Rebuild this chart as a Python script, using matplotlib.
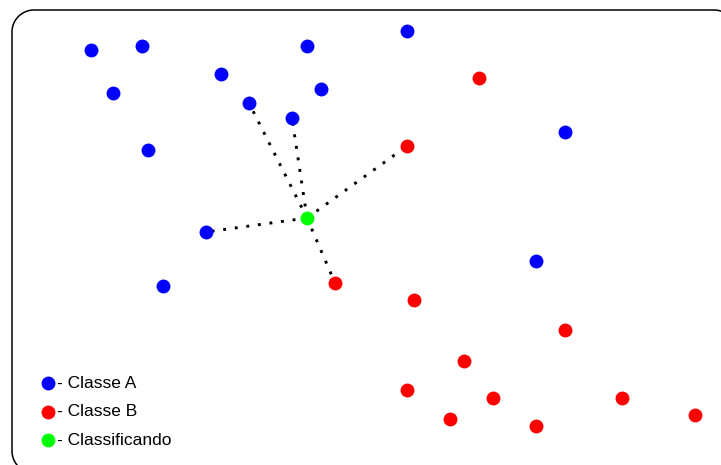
import matplotlib
matplotlib.use('Agg')
import matplotlib.pyplot as plt
import numpy as np
from matplotlib.patches import Polygon

plt.rcParams['font.family'] = ['Liberation Sans', 'DejaVu Sans']

# point positions (pixel-like units, y grows downward)
classe_a_x = [91, 142, 307, 407, 113, 221, 321, 249, 292, 148, 565, 206, 536, 163]
classe_a_y = [50, 46, 46, 31, 93, 74, 89, 103, 118, 150, 132, 232, 261, 286]
classe_b_x = [479, 407, 335, 414, 565, 464, 407, 493, 622, 450, 536, 695]
classe_b_y = [78, 146, 283, 300, 330, 361, 390, 398, 398, 419, 426, 415]
novo_x, novo_y = 307, 218
# the 5 nearest neighbours joined by dotted lines
viz_x = [249, 292, 407, 206, 335]
viz_y = [103, 118, 146, 232, 283]

legenda = ["- Classe A", "- Classe B", "- Classificando"]
cores = ["#0000ff", "#ff0000", "#00ff00"]

fig = plt.figure(figsize=(7.21, 4.65), dpi=100, facecolor="white")
ax = fig.add_axes([0, 0, 1, 1])
ax.set_xlim(0, 721); ax.set_ylim(465, 0)
ax.axis("off")


def rounded_rect(x0, y0, x1, y1, r, n=20):
    pts = []
    for cx, cy, a0 in [(x0 + r, y0 + r, np.pi), (x1 - r, y0 + r, 1.5 * np.pi),
                       (x1 - r, y1 - r, 0.0), (x0 + r, y1 - r, 0.5 * np.pi)]:
        t = np.linspace(a0, a0 + np.pi / 2, n)
        pts += list(zip(cx + r * np.cos(t), cy + r * np.sin(t)))
    return np.array(pts)


# rounded frame, running off the right and bottom edges
ax.add_patch(Polygon(rounded_rect(12, 10, 736, 473, 22), closed=True,
                     facecolor="none", edgecolor="black", lw=1.1,
                     joinstyle="round", zorder=1))

for vx, vy in zip(viz_x, viz_y):
    ax.plot([novo_x, vx], [novo_y, vy], color="black", lw=2.1,
            ls=(0, (1, 3)), zorder=2)

ax.plot(classe_a_x, classe_a_y, "o", color=cores[0], ms=10, mew=0, zorder=3)
ax.plot(classe_b_x, classe_b_y, "o", color=cores[1], ms=10, mew=0, zorder=3)
ax.plot([novo_x], [novo_y], "o", color=cores[2], ms=10, mew=0, zorder=3)

for i, (txt, c) in enumerate(zip(legenda, cores)):
    yy = 383 + i * 28.5
    ax.plot([48], [yy], "o", color=c, ms=10, mew=0, zorder=3)
    ax.text(57, yy, txt, fontsize=12.5, color="black", ha="left", va="center")

fig.savefig("out.png", dpi=100, facecolor="white")
